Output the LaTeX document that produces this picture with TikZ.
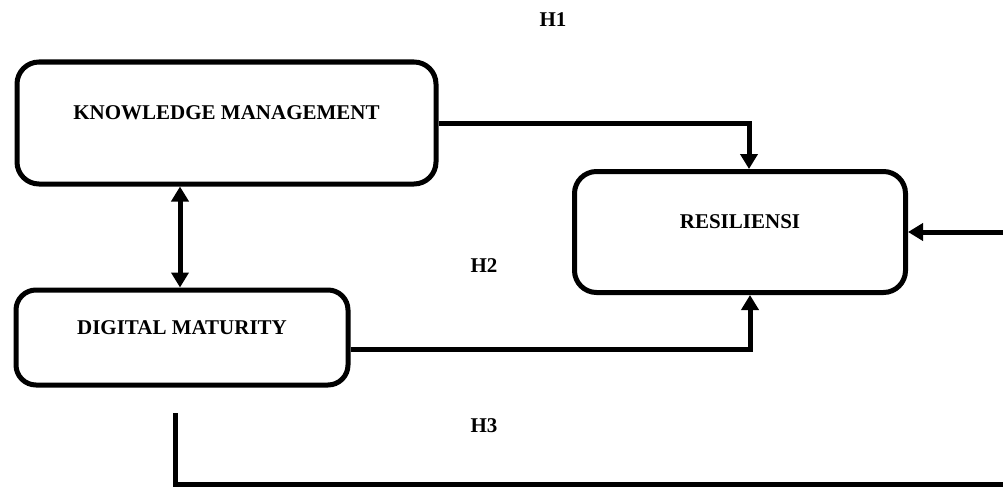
\documentclass[tikz,border=0pt]{standalone}
\usepackage{fontspec}
\setmainfont{Liberation Serif}
\usepackage{tikz}
\usetikzlibrary{arrows.meta}
\tikzstyle{varbox} = [draw, line width=5pt, rounded corners=22pt, inner sep=0pt]
\tikzset{varname/.style={font=\fontsize{21}{25}\selectfont\bfseries, yshift=10pt},
    hyp/.style={font=\fontsize{21}{25}\selectfont\bfseries},
    link/.style={line width=5pt, -{Triangle[length=15pt,width=17pt]}}}

\begin{document}
\begin{tikzpicture}[x=1pt, y=-1pt]
    \useasboundingbox (0,0) rectangle (1003,487);
    % Definition of boxes
    \node[varbox, minimum width=419pt, minimum height=122pt,
        label={[varname]center:KNOWLEDGE MANAGEMENT}] (km) at (226.5,123) {};
    \node[varbox, minimum width=331pt, minimum height=121pt,
        label={[varname]center:RESILIENSI}] (res) at (740,232) {};
    \node[varbox, minimum width=332pt, minimum height=95pt, rounded corners=20pt,
        label={[varname]center:DIGITAL MATURITY}] (dm) at (182,337.5) {};
    %
    \node[hyp] (h1) at (553,20) {H1};
    \node[hyp] (h2) at (484,266) {H2};
    \node[hyp] (h3) at (484,426) {H3};
    % free ends
    \coordinate (h3top) at (175,413);
    \coordinate (h3end) at (1012,484);
    \coordinate (rin) at (1012,232);
    % connectors
    \draw[link] (km.east) -| ([xshift=9pt]res.north);
    \draw[link, {Triangle[length=15pt,width=17pt]}-{Triangle[length=15pt,width=17pt]}]
        ([xshift=-46.5pt]km.south) -- ([xshift=-2pt]dm.north);
    \draw[link] ([yshift=-12pt]dm.east) -| ([xshift=10pt]res.south);
    \draw[line width=5pt] (h3top) |- (h3end);
    \draw[link] (rin) -- (res.east);
\end{tikzpicture}
\end{document}
